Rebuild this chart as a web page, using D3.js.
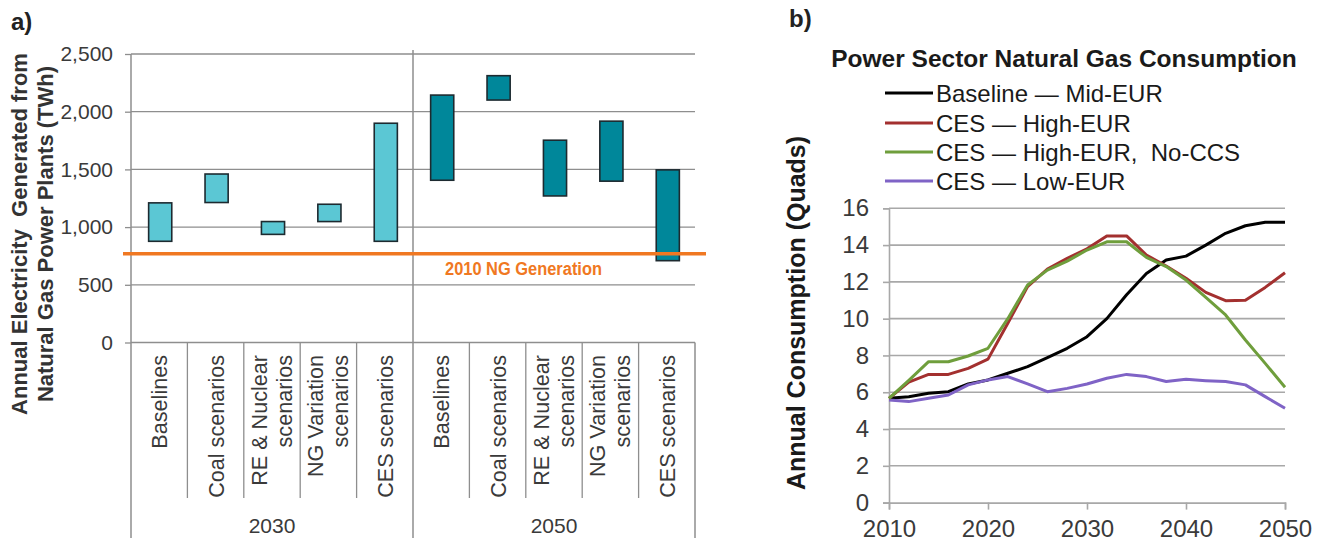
<!DOCTYPE html>
<html><head><meta charset="utf-8">
<script src="https://cdn.jsdelivr.net/npm/d3@7"></script>
<style>
html,body{margin:0;padding:0;background:#fff;}
text{font-family:"Liberation Sans",Arial,sans-serif;white-space:pre;}
</style></head>
<body>
<svg id="c" width="1325" height="545"></svg>
<script>
// ---------- Data: panel a ----------
const categories = ["Baselines","Coal scenarios","RE & Nuclear|scenarios","NG Variation|scenarios","CES scenarios"];
const years = ["2030","2050"];
const low2030  = [877, 1213, 937, 1048, 877];
const high2030 = [1210, 1460, 1048, 1198, 1900];
const low2050  = [1406, 2101, 1270, 1398, 709];
const high2050 = [2144, 2312, 1753, 1918, 1496];
const ngGeneration2010 = 770;
const leftTicks = [0, 500, 1000, 1500, 2000, 2500];

// ---------- Data: panel b ----------
const yearsB = [2010,2012,2014,2016,2018,2020,2022,2024,2026,2028,2030,2032,2034,2036,2038,2040,2042,2044,2046,2048,2050];
const baselineMid = [5.67,5.76,5.94,6.03,6.45,6.67,7.03,7.39,7.88,8.39,9.02,10.0,11.3,12.46,13.19,13.4,14.0,14.64,15.05,15.24,15.24];
const cesHigh     = [5.67,6.55,6.97,6.97,7.3,7.8,9.75,11.74,12.7,13.28,13.8,14.5,14.5,13.46,12.86,12.2,11.43,10.98,11.0,11.7,12.5];
const cesHighNoCCS= [5.67,6.65,7.66,7.66,7.97,8.39,10.0,11.83,12.64,13.13,13.73,14.18,14.18,13.33,12.83,12.1,11.16,10.2,8.84,7.57,6.27];
const cesLow      = [5.58,5.49,5.67,5.85,6.4,6.67,6.85,6.45,6.03,6.21,6.45,6.76,6.97,6.85,6.58,6.7,6.63,6.58,6.4,5.76,5.13];
const seriesNames = ["Baseline \u2014 Mid-EUR","CES \u2014 High-EUR","CES \u2014 High-EUR,  No-CCS","CES \u2014 Low-EUR"];
const seriesColors = ["#000000","#a3302f","#6f9e3c","#7f63c6"];
const rightYTicks = [0,2,4,6,8,10,12,14,16];
const rightXTicks = [2010,2020,2030,2040,2050];

const svg = d3.select("#c");
const gridCol = "#8e8e8e", txtCol = "#3a3a3a";

// ================= Panel a =================
const aL = 131, aR = 695, aTop = 54, aBot = 342.5;
const keys = [];
years.forEach(y => categories.forEach((c,i) => keys.push(y + "_" + i)));
const xA = d3.scaleBand().domain(keys).range([aL, aR]).padding(0);
const yA = d3.scaleLinear().domain([0, 2500]).range([aBot, aTop]);

const ga = svg.append("g");
ga.selectAll("line.grid").data(leftTicks).join("line")
  .attr("x1", aL).attr("x2", aR).attr("y1", d => yA(d)).attr("y2", d => yA(d))
  .attr("stroke", gridCol).attr("stroke-width", 1.3);
const yAxisA = d3.axisLeft(yA).tickValues(leftTicks).tickSize(6).tickPadding(12).tickFormat(d3.format(","));
const yg = ga.append("g").attr("transform", `translate(${aL},0)`).call(yAxisA);
yg.select(".domain").remove();
yg.selectAll(".tick line").attr("stroke", gridCol).attr("stroke-width", 1.3);
yg.selectAll(".tick text").attr("font-size", 21).attr("fill", txtCol).attr("font-family", "Liberation Sans, Arial, sans-serif");
[aL, xA("2050_0"), aR].forEach((x, i) => {
  ga.append("line").attr("x1", x).attr("x2", x).attr("y1", i === 1 ? 50 : (i === 0 ? aTop : aBot)).attr("y2", 538)
    .attr("stroke", gridCol).attr("stroke-width", 1.5);
});
keys.forEach((k, i) => {
  if (i % 5 === 0) return;
  ga.append("line").attr("x1", xA(k)).attr("x2", xA(k)).attr("y1", aBot).attr("y2", 498)
    .attr("stroke", gridCol).attr("stroke-width", 1.3);
});
keys.forEach((k, i) => {
  const lines = categories[i % 5].split("|");
  const cx = xA(k) + xA.bandwidth() / 2;
  lines.forEach((ln, j) => {
    const off = lines.length === 1 ? 0.5 : (j === 0 ? -12.5 : 12.5);
    ga.append("text").attr("transform", `translate(${cx + off},355) rotate(-90)`)
      .attr("text-anchor", "end").attr("dominant-baseline", "central")
      .attr("font-size", 21.6).attr("fill", txtCol).text(ln);
  });
});
years.forEach((y) => {
  const x0 = xA(y + "_0"), x1 = xA(y + "_4") + xA.bandwidth();
  ga.append("text").attr("x", (x0 + x1) / 2).attr("y", 533).attr("text-anchor", "middle")
    .attr("font-size", 21).attr("fill", txtCol).text(y);
});
const bw = xA.bandwidth() * 0.41;
function bars(lo, hi, yr, color) {
  ga.selectAll(null).data(lo.map((d, i) => ({lo: d, hi: hi[i], k: yr + "_" + i}))).join("rect")
    .attr("x", d => xA(d.k) + xA.bandwidth() / 2 - bw / 2 + 1)
    .attr("width", bw)
    .attr("y", d => yA(d.hi)).attr("height", d => yA(d.lo) - yA(d.hi))
    .attr("fill", color).attr("stroke", "#1d2a30").attr("stroke-width", 1.6);
}
bars(low2030, high2030, "2030", "#5bc7d4");
bars(low2050, high2050, "2050", "#00879a");
ga.append("line").attr("x1", 123).attr("x2", 706).attr("y1", yA(ngGeneration2010)).attr("y2", yA(ngGeneration2010))
  .attr("stroke", "#f07822").attr("stroke-width", 3.5);
ga.append("text").attr("x", 445).attr("y", 275).attr("font-size", 18).attr("font-weight", "bold")
  .attr("fill", "#f07822").attr("textLength", 157).attr("lengthAdjust", "spacingAndGlyphs").text("2010 NG Generation");
const tA = ga.append("g").attr("transform", "translate(0,234)");
tA.append("text").attr("transform", "translate(19,0) rotate(-90)").attr("text-anchor", "middle")
  .attr("dominant-baseline", "central").attr("font-size", 22).attr("font-weight", "bold").attr("fill", "#333")
  .text("Annual Electricity  Generated from");
tA.append("text").attr("transform", "translate(45,0) rotate(-90)").attr("text-anchor", "middle")
  .attr("dominant-baseline", "central").attr("font-size", 22).attr("font-weight", "bold").attr("fill", "#333")
  .text("Natural Gas Power Plants (TWh)");
svg.append("text").attr("x", 11).attr("y", 30).attr("font-size", 24).attr("font-weight", "bold").attr("fill", "#222").text("a)");

// ================= Panel b =================
const bL = 889, bR = 1285, bTop = 208.3, bBot = 502.6;
const xB = d3.scaleLinear().domain([2010, 2050]).range([bL, bR]);
const yB = d3.scaleLinear().domain([0, 16]).range([bBot, bTop]);
const gb = svg.append("g");
gb.selectAll("line.g").data(rightYTicks.filter(d => d > 0)).join("line")
  .attr("x1", bL).attr("x2", bR).attr("y1", d => yB(d)).attr("y2", d => yB(d))
  .attr("stroke", "#a8a8a8").attr("stroke-width", 1.6);
const yAxB = gb.append("g").attr("transform", `translate(${bL},0)`)
  .call(d3.axisLeft(yB).tickValues(rightYTicks).tickSize(6).tickPadding(14));
yAxB.select(".domain").attr("stroke", "#a8a8a8").attr("stroke-width", 1.6);
yAxB.selectAll(".tick line").attr("stroke", "#a8a8a8").attr("stroke-width", 1.6);
yAxB.selectAll(".tick text").attr("font-size", 24).attr("fill", txtCol).attr("font-family", "Liberation Sans, Arial, sans-serif");
const xAxB = gb.append("g").attr("transform", `translate(0,${bBot})`)
  .call(d3.axisBottom(xB).tickValues(rightXTicks).tickSize(7).tickPadding(10).tickFormat(d3.format("d")));
xAxB.select(".domain").attr("stroke", "#a8a8a8").attr("stroke-width", 1.6);
xAxB.selectAll(".tick line").attr("stroke", "#a8a8a8").attr("stroke-width", 1.6);
xAxB.selectAll(".tick text").attr("font-size", 24).attr("fill", txtCol).attr("font-family", "Liberation Sans, Arial, sans-serif");

const allSeries = [baselineMid, cesHigh, cesHighNoCCS, cesLow];
const line = d3.line().x((d, i) => xB(yearsB[i])).y(d => yB(d));
[0, 3, 1, 2].forEach(si => {
  gb.append("path").datum(allSeries[si]).attr("d", line).attr("fill", "none")
    .attr("stroke", seriesColors[si]).attr("stroke-width", 3).attr("stroke-linejoin", "round");
});
svg.append("text").attr("x", 1064).attr("y", 67).attr("text-anchor", "middle").attr("font-size", 24.5)
  .attr("font-weight", "bold").attr("fill", "#1a1a1a").text("Power Sector Natural Gas Consumption");
const legY = [93, 123, 152, 181];
seriesNames.forEach((n, i) => {
  svg.append("line").attr("x1", 885).attr("x2", 933).attr("y1", legY[i]).attr("y2", legY[i])
    .attr("stroke", seriesColors[i]).attr("stroke-width", 3);
  svg.append("text").attr("x", 936).attr("y", legY[i]).attr("dominant-baseline", "central")
    .attr("font-size", 24).attr("fill", "#1a1a1a").text(n);
});
svg.append("text").attr("transform", "translate(796,313) rotate(-90)").attr("text-anchor", "middle")
  .attr("dominant-baseline", "central").attr("font-size", 25).attr("font-weight", "bold").attr("fill", "#1a1a1a")
  .text("Annual Consumption (Quads)");
svg.append("text").attr("x", 789).attr("y", 27).attr("font-size", 24).attr("font-weight", "bold").attr("fill", "#222").text("b)");
</script>
</body></html>
